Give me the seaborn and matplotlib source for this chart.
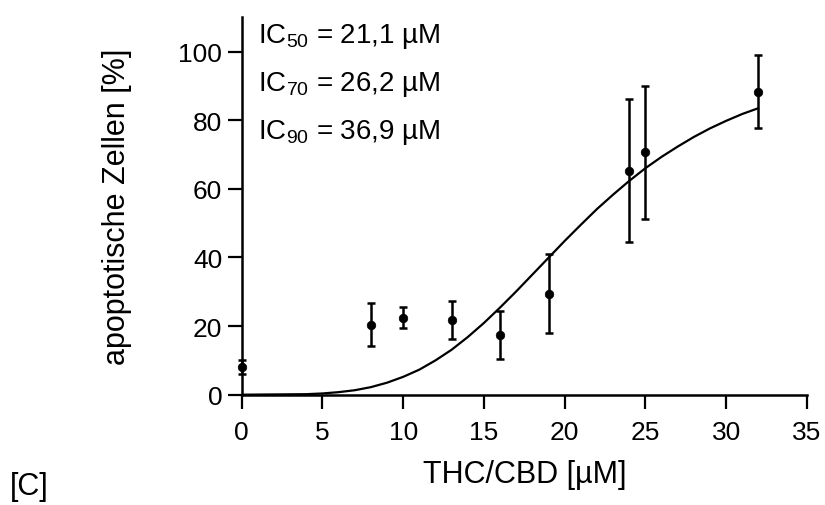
import numpy as np
import pandas as pd
import matplotlib
matplotlib.use("Agg")
import matplotlib.pyplot as plt
import seaborn as sns

# measured points (THC/CBD concentration, % apoptotic cells, error)
conc = [0, 8, 10, 13, 16, 19, 24, 25, 32]
apoptosis = [8.0, 20.4, 22.4, 21.8, 17.4, 29.4, 65.3, 70.6, 88.3]
err = [2.0, 6.2, 3.1, 5.6, 6.9, 11.5, 20.9, 19.3, 10.6]

# fitted curve
curve_x = [0, 4, 5, 6, 7, 8, 9, 10, 11, 12, 13, 14, 15, 16, 17, 18, 19, 20,
           21, 22, 23, 24, 25, 26, 27, 28, 29, 30, 31, 32]
curve_y = [0.0, 0.15, 0.36, 0.74, 1.3, 2.2, 3.5, 5.2, 7.3, 10.0, 13.1, 16.8,
           20.9, 25.4, 30.1, 35.0, 39.9, 44.8, 49.5, 54.1, 58.3, 62.3, 66.0,
           69.3, 72.3, 75.1, 77.6, 79.8, 81.8, 83.5]

ic_labels = ["50", "70", "90"]
ic_values = ["21,1", "26,2", "36,9"]

sns.set_theme(style="ticks")
plt.rcParams['font.family'] = ['Liberation Sans', 'DejaVu Sans']
plt.rcParams['mathtext.fontset'] = 'custom'
plt.rcParams['mathtext.rm'] = 'Liberation Sans'
plt.rcParams['mathtext.it'] = 'Liberation Sans'

fig = plt.figure(figsize=(8.25, 5.06), dpi=100)
ax = fig.add_axes([0.293, 0.218, 0.685, 0.746])

df_curve = pd.DataFrame({"x": curve_x, "y": curve_y})
sns.lineplot(data=df_curve, x="x", y="y", color="black", linewidth=1.6, ax=ax)

ax.errorbar(conc, apoptosis, yerr=err, fmt="none", ecolor="black",
            elinewidth=1.8, capsize=3, capthick=1.8, clip_on=False, zorder=3)
df_pts = pd.DataFrame({"x": conc, "y": apoptosis})
sns.scatterplot(data=df_pts, x="x", y="y", color="black", s=38,
                edgecolor="black", ax=ax, zorder=4, clip_on=False)

ax.set_xlim(0, 35)
ax.set_ylim(0, 110)
ax.set_xticks(range(0, 36, 5))
ax.set_yticks(range(0, 101, 20))
sns.despine(ax=ax)
for s in ["left", "bottom"]:
    ax.spines[s].set_linewidth(1.8)
    ax.spines[s].set_color("black")
ax.tick_params(axis="both", length=10, width=1.6, color="black",
               labelsize=19, labelcolor="black")
ax.tick_params(axis="x", pad=8)
ax.tick_params(axis="y", pad=4)

ax.set_xlabel("THC/CBD [µM]", fontsize=22, color="black")
ax.set_ylabel("apoptotische Zellen [%]", fontsize=22, color="black")
ax.xaxis.set_label_coords(0.5, -0.171)
ax.yaxis.set_label_coords(-0.195, 0.5)

for i, (lab, val) in enumerate(zip(ic_labels, ic_values)):
    ax.text(1.0, 104.6 - i * 14.0, f"IC$_{{{lab}}}$ = {val} µM",
            fontsize=20, va="center", ha="left", color="black")

fig.text(0.012, 0.038, "[C]", fontsize=22, color="black", va="center")

fig.savefig("out.png", dpi=100)
